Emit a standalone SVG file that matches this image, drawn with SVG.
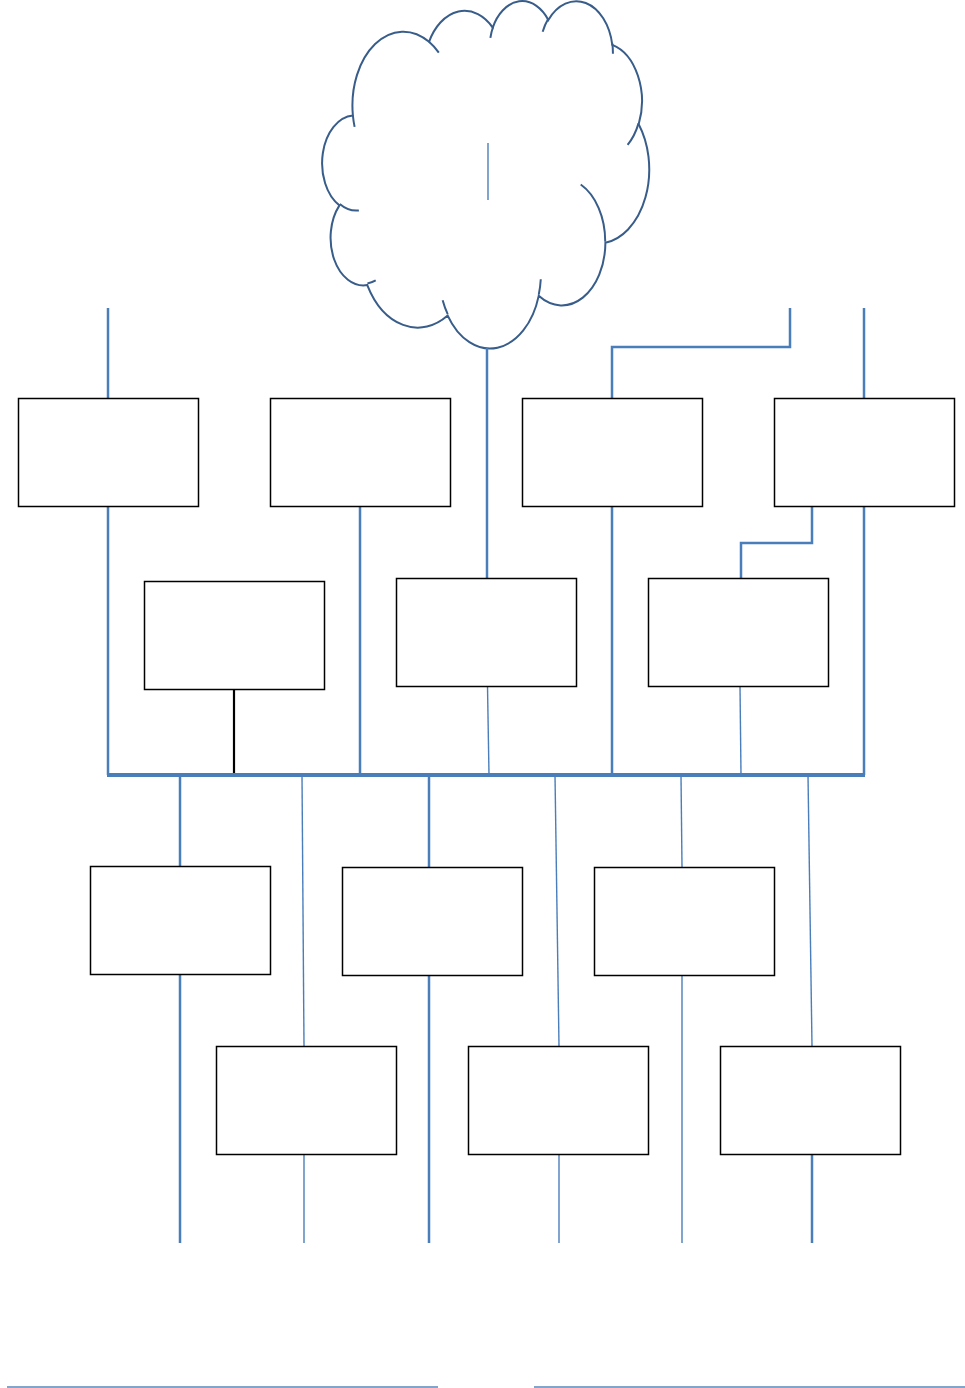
<svg xmlns="http://www.w3.org/2000/svg" width="965" height="1388" viewBox="0 0 965 1388">
<style>
.box{fill:#fff;stroke:#000;stroke-width:1.5}
.c{fill:none;stroke:#4A7EBB;stroke-width:2.5}
.t{fill:none;stroke:#4A7EBB;stroke-width:1.4}
.bus{fill:none;stroke:#4A7EBB;stroke-width:4}
.cl{stroke:#385D8A;stroke-width:2;vector-effect:non-scaling-stroke}
</style>
<rect width="965" height="1388" fill="#fff"/>
<g id="cloud" transform="translate(323.5,0) scale(0.007537,0.008037)">
<path class="cl" fill="#fff" d="M3900 14370 A6753 9190 0 0 1 14003.7 5201.4 A5333 7267 0 0 1 22454.8 3429.8 A4365 5945 0 0 1 29832.1 2478.6 A4857 6595 0 0 1 38316.5 5575.1 A5333 7273 0 0 1 41817 15459 A6775 9220 0 0 1 37402.4 30200.9 A5785 7867 0 0 1 28554.6 36811.7 A6752 9215 0 0 1 16479.3 39263.4 A7720 10543 0 0 1 5807.6 35470.1 A4360 5918 0 0 1 2114.8 25549.7 A4345 5945 0 0 1 3900 14370 Z"/>
<path class="cl" fill="none" d="M4693 26177 A4345 5945 0 0 1 2157.8 25378.5 M6928 34899 A4360 5918 0 0 1 5822.6 35279.1 M16478 39090 A6752 9215 0 0 1 15809.6 37347.8 M28827 34751 A6752 9215 0 0 1 28560.4 36660.4 M34129 22954 A5785 7867 0 0 1 37377.8 30087.9 M41798 15354 A5333 7273 0 0 1 40348.4 18031.8 M38324 5426 A4857 6595 0 0 1 38400.4 6689.5 M29078 3952 A4857 6595 0 0 1 29820.4 2339.5 M22141 4720 A4365 5945 0 0 1 22500 3330.6 M14000 5192 A6753 9190 0 0 1 15299.4 6538.7 M4127 15789 A6753 9190 0 0 1 3900.1 14369.8"/>
</g>
<g id="connectors">
<line class="t" x1="488" y1="143" x2="488" y2="200"/>
<line class="c" x1="108" y1="308" x2="108" y2="398"/>
<line class="c" x1="108" y1="506" x2="108" y2="775"/>
<line class="c" x1="360" y1="506" x2="360" y2="775"/>
<line class="c" x1="487" y1="348" x2="487" y2="578"/>
<line class="c" x1="612" y1="506" x2="612" y2="775"/>
<polyline class="c" points="612,398 612,347 790,347 790,308"/>
<line class="c" x1="864" y1="308" x2="864" y2="398"/>
<line class="c" x1="864" y1="506" x2="864" y2="775"/>
<polyline class="c" points="812,506 812,543 741,543 741,580"/>
<line x1="234" y1="689" x2="234" y2="775" stroke="#000" stroke-width="2.2"/>
<line class="t" x1="487.5" y1="686" x2="489" y2="775"/>
<line class="t" x1="740" y1="686" x2="741" y2="775"/>
<line class="bus" x1="107" y1="775" x2="865" y2="775"/>
<line class="c" x1="180" y1="775" x2="180" y2="866"/>
<line class="c" x1="180" y1="974" x2="180" y2="1243"/>
<line class="t" x1="302" y1="775" x2="304" y2="1046"/>
<line class="t" x1="304" y1="1154" x2="304" y2="1243"/>
<line class="c" x1="429" y1="775" x2="429" y2="867"/>
<line class="c" x1="429" y1="975" x2="429" y2="1243"/>
<line class="t" x1="555" y1="775" x2="559" y2="1046"/>
<line class="t" x1="559" y1="1154" x2="559" y2="1243"/>
<line class="t" x1="681" y1="775" x2="682" y2="867"/>
<line class="t" x1="682" y1="975" x2="682" y2="1243"/>
<line class="t" x1="808" y1="775" x2="812" y2="1046"/>
<line class="c" x1="812" y1="1154" x2="812" y2="1243"/>
<line x1="7" y1="1387" x2="438" y2="1387" stroke="#5B86B8" stroke-width="1.6"/>
<line x1="534" y1="1387" x2="965" y2="1387" stroke="#5B86B8" stroke-width="1.6"/>
</g>
<g id="n1"><rect class="box" x="18.5" y="398.5" width="180" height="108"/></g>
<g id="n2"><rect class="box" x="270.5" y="398.5" width="180" height="108"/></g>
<g id="n3"><rect class="box" x="522.5" y="398.5" width="180" height="108"/></g>
<g id="n4"><rect class="box" x="774.5" y="398.5" width="180" height="108"/></g>
<g id="n5"><rect class="box" x="144.5" y="581.5" width="180" height="108"/></g>
<g id="n6"><rect class="box" x="396.5" y="578.5" width="180" height="108"/></g>
<g id="n7"><rect class="box" x="648.5" y="578.5" width="180" height="108"/></g>
<g id="n8"><rect class="box" x="90.5" y="866.5" width="180" height="108"/></g>
<g id="n9"><rect class="box" x="342.5" y="867.5" width="180" height="108"/></g>
<g id="n10"><rect class="box" x="594.5" y="867.5" width="180" height="108"/></g>
<g id="n11"><rect class="box" x="216.5" y="1046.5" width="180" height="108"/></g>
<g id="n12"><rect class="box" x="468.5" y="1046.5" width="180" height="108"/></g>
<g id="n13"><rect class="box" x="720.5" y="1046.5" width="180" height="108"/></g>
</svg>
